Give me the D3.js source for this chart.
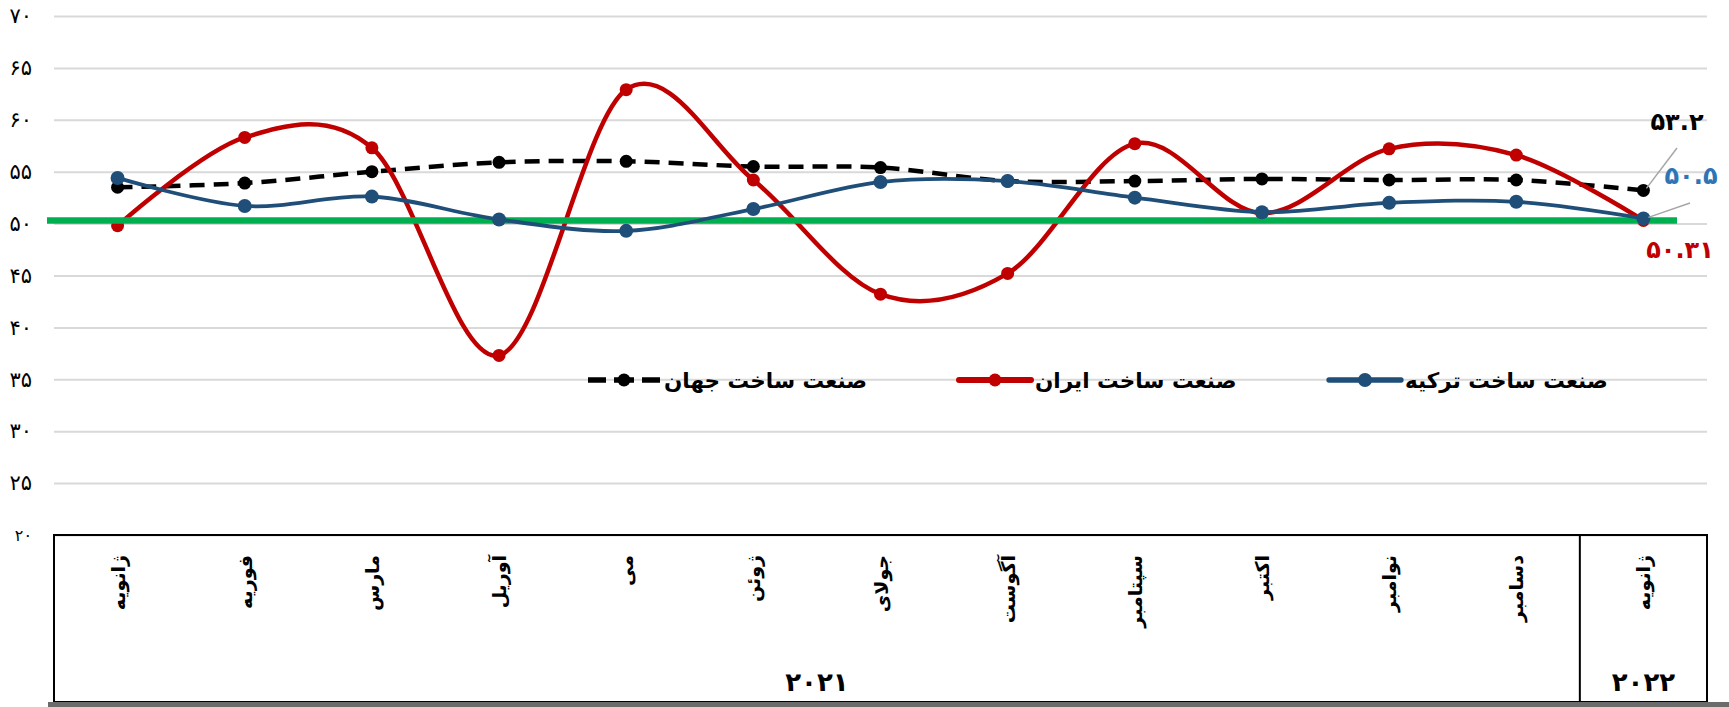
<!DOCTYPE html>
<html>
<head>
<meta charset="utf-8">
<script src="https://cdn.jsdelivr.net/npm/d3@7/dist/d3.min.js"></script>
<style>
  html, body { margin: 0; padding: 0; background: #fff; }
  svg { display: block; }
  text { font-family: "DejaVu Sans", sans-serif; }
</style>
</head>
<body>
<svg id="chart" width="1729" height="707"></svg>
<script>
// ---------------- data ----------------
const months = ["ژانویه","فوریه","مارس","آوریل","می","ژوئن","جولای","آگوست","سپتامبر","اکتبر","نوامبر","دسامبر","ژانویه"];
const yearLabels = ["۲۰۲۱","۲۰۲۲"];
const yearSpans = [[0, 11], [12, 12]];
const worldPMI  = [53.5, 53.9, 55.0, 55.9, 56.0, 55.5, 55.4, 54.1, 54.1, 54.3, 54.2, 54.2, 53.2];
const iranPMI   = [49.8, 58.3, 57.3, 37.3, 62.9, 54.2, 43.2, 45.2, 57.7, 51.0, 57.2, 56.6, 50.31];
const turkeyPMI = [54.4, 51.7, 52.6, 50.4, 49.3, 51.4, 54.0, 54.1, 52.5, 51.1, 52.0, 52.1, 50.5];
const seriesNames = ["صنعت ساخت جهان", "صنعت ساخت ایران", "صنعت ساخت ترکیه"];
const lastValueLabels = ["۵۳.۲", "۵۰.۳۱", "۵۰.۵"];
const yTicks = [20, 25, 30, 35, 40, 45, 50, 55, 60, 65, 70];
const thresholdValue = 50.3;

// ---------------- layout ----------------
const W = 1729, H = 707;
const plotLeft = 54, plotRight = 1707, plotTop = 16, plotBottom = 535;
const boxBottom = 702;

const svg = d3.select("#chart");
const faDigits = "۰۱۲۳۴۵۶۷۸۹";
const toFa = v => String(v).replace(/[0-9]/g, d => faDigits[+d]);

const x = d3.scaleBand().domain(d3.range(months.length)).range([plotLeft, plotRight]).padding(0);
const cx = i => x(i) + x.bandwidth() / 2;
const y = d3.scaleLinear().domain([20, 70]).range([plotBottom, plotTop]);

// gridlines + y axis
const yAxis = d3.axisLeft(y).tickValues(yTicks).tickSize(-(plotRight - plotLeft)).tickPadding(22).tickFormat(toFa);
const gy = svg.append("g").attr("transform", `translate(${plotLeft},0)`).call(yAxis);
gy.select(".domain").remove();
gy.selectAll(".tick line").attr("stroke", "#d9d9d9").attr("stroke-width", 2);
gy.selectAll(".tick text").attr("fill", "#000").style("font-size", d => d === 20 ? "16px" : "21px").style("font-family", "DejaVu Sans, sans-serif");

// category box
const gBox = svg.append("g");
gBox.append("rect").attr("x", plotLeft).attr("y", plotBottom).attr("width", plotRight - plotLeft).attr("height", boxBottom - plotBottom)
  .attr("fill", "none").attr("stroke", "#000").attr("stroke-width", 2);
gBox.append("line").attr("x1", x(12)).attr("x2", x(12)).attr("y1", plotBottom).attr("y2", boxBottom).attr("stroke", "#000").attr("stroke-width", 2);
svg.append("rect").attr("x", 48).attr("y", boxBottom).attr("width", W - 48).attr("height", H - boxBottom).attr("fill", "#6b6b6b");

// month labels (rotated)
svg.append("g").selectAll("text").data(months).join("text")
  .attr("transform", (d, i) => `translate(${cx(i) + 7},555) rotate(-90)`)
  .attr("text-anchor", "end")
  .style("font-size", "19px").style("font-weight", "bold")
  .text(d => d);

// year labels
svg.append("g").selectAll("text").data(yearLabels).join("text")
  .attr("x", (d, i) => (x(yearSpans[i][0]) + x(yearSpans[i][1]) + x.bandwidth()) / 2)
  .attr("y", 682).attr("dy", "0.35em")
  .attr("text-anchor", "middle")
  .style("font-size", "26px").style("font-weight", "bold")
  .text(d => d);

// lines
const line = d3.line().x((d, i) => cx(i)).y(d => y(d)).curve(d3.curveCardinal.tension(0));

const series = [
  { values: worldPMI, color: "#000000", width: 4.5, dash: "15,9", r: 6.5 },
  { values: iranPMI, color: "#C00000", width: 4.5, dash: null, r: 6.5 },
  { values: turkeyPMI, color: "#1F4E79", width: 3.8, dash: null, r: 7 }
];

function drawSeries(s) {
  const g = svg.append("g");
  g.append("path").attr("d", line(s.values)).attr("fill", "none")
    .attr("stroke", s.color).attr("stroke-width", s.width)
    .attr("stroke-dasharray", s.dash).attr("stroke-linecap", s.dash ? "butt" : "round");
  g.selectAll("circle").data(s.values).join("circle")
    .attr("cx", (d, i) => cx(i)).attr("cy", d => y(d)).attr("r", s.r).attr("fill", s.color);
}

drawSeries(series[0]);
drawSeries(series[1]);
// threshold green line
svg.append("line").attr("x1", 47).attr("x2", 1677).attr("y1", y(thresholdValue)).attr("y2", y(thresholdValue))
  .attr("stroke", "#00B050").attr("stroke-width", 6.5);
drawSeries(series[2]);

// leader lines + last value labels
const last = months.length - 1;
svg.append("line").attr("x1", 1677).attr("y1", 148).attr("x2", cx(last) + 3).attr("y2", y(worldPMI[last]) - 2)
  .attr("stroke", "#a6a6a6").attr("stroke-width", 1.5);
svg.append("line").attr("x1", 1690).attr("y1", 203).attr("x2", cx(last) + 5).attr("y2", y(turkeyPMI[last]) - 1)
  .attr("stroke", "#a6a6a6").attr("stroke-width", 1.5);
const lblPos = [[1677, 122, "#000000"], [1680, 250, "#C00000"], [1691, 176, "#2E75B6"]];
svg.append("g").selectAll("text").data(lastValueLabels).join("text")
  .attr("x", (d, i) => lblPos[i][0]).attr("y", (d, i) => lblPos[i][1]).attr("dy", "0.35em")
  .attr("text-anchor", "middle").attr("fill", (d, i) => lblPos[i][2])
  .style("font-size", "24px").style("font-weight", "bold")
  .text(d => d);

// legend
const legendY = 380;
const legendItems = [
  { name: seriesNames[0], s: series[0], mx: 588 },
  { name: seriesNames[1], s: series[1], mx: 959 },
  { name: seriesNames[2], s: series[2], mx: 1329 }
];
const gl = svg.append("g");
legendItems.forEach(it => {
  const g = gl.append("g");
  const len = 72;
  if (it.s.dash) {
    g.append("line").attr("x1", it.mx).attr("x2", it.mx + 18).attr("y1", legendY).attr("y2", legendY)
      .attr("stroke", it.s.color).attr("stroke-width", it.s.width + 1);
    g.append("line").attr("x1", it.mx + len - 18).attr("x2", it.mx + len).attr("y1", legendY).attr("y2", legendY)
      .attr("stroke", it.s.color).attr("stroke-width", it.s.width + 1);
    g.append("line").attr("x1", it.mx + len / 2 - 10).attr("x2", it.mx + len / 2 + 10).attr("y1", legendY).attr("y2", legendY)
      .attr("stroke", it.s.color).attr("stroke-width", it.s.width + 1);
  } else {
    g.append("line").attr("x1", it.mx).attr("x2", it.mx + len).attr("y1", legendY).attr("y2", legendY)
      .attr("stroke", it.s.color).attr("stroke-width", it.s.width + 1.5).attr("stroke-linecap", "round");
  }
  g.append("circle").attr("cx", it.mx + len / 2).attr("cy", legendY).attr("r", it.s.r).attr("fill", it.s.color);
  g.append("text").attr("x", it.mx + len + 4).attr("y", legendY).attr("dy", "0.35em")
    .attr("text-anchor", "start").style("font-size", "21.5px").style("font-weight", "bold")
    .text(it.name);
});
</script>
</body>
</html>
